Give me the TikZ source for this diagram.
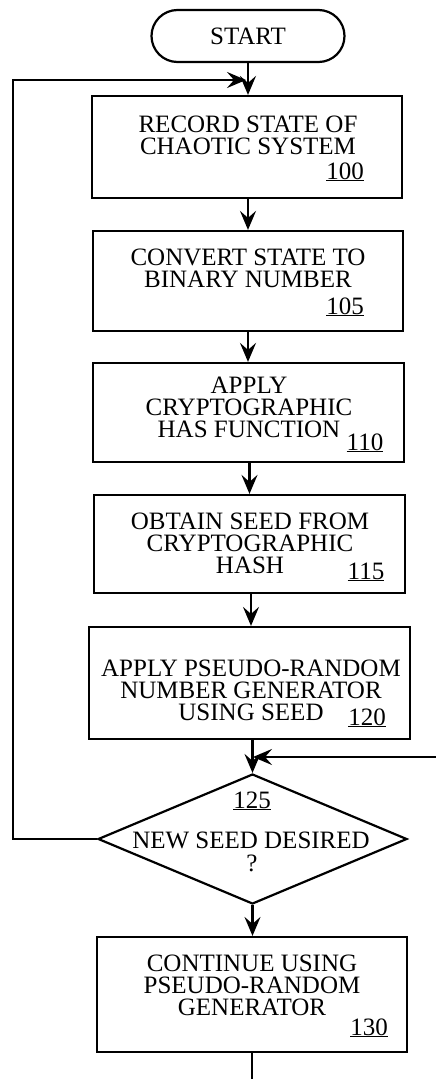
\documentclass[tikz,border=0pt]{standalone}
\usepackage{fontspec}
\setmainfont{Liberation Serif}
\usetikzlibrary{shapes.geometric,arrows.meta}

\begin{document}
\begin{tikzpicture}[x=1pt,y=-1pt,line width=2.2pt,
  box/.style={draw,rectangle,inner sep=0pt,line width=2.2pt},
  txt/.style={align=center,inner sep=0pt,font=\fontsize{25}{22}\selectfont},
  refnum/.style={anchor=base,inner sep=0pt,font=\fontsize{25}{22}\selectfont},
  flow/.style={-{Stealth[length=19pt,width=16pt,inset=7pt]},line width=2.2pt}]
\useasboundingbox (0,0) rectangle (436,1079);

% terminal
\node[box,minimum width=193pt,minimum height=52pt,rounded corners=26pt,
      font=\fontsize{25}{22}\selectfont] (start) at (248,36) {START};

% process steps
\node[box,minimum width=310pt,minimum height=102pt] (rec) at (247,147) {};
\node[txt] (rec-t) at (248,135) {RECORD STATE OF\\CHAOTIC SYSTEM};
\node[refnum] (rec-n) at (345,179) {\underline{100}};

\node[box,minimum width=310pt,minimum height=100pt] (conv) at (248,281) {};
\node[txt] (conv-t) at (248,268) {CONVERT STATE TO\\BINARY NUMBER};
\node[refnum] (conv-n) at (345,314) {\underline{105}};

\node[box,minimum width=311pt,minimum height=99pt] (hashf) at (248.5,412.5) {};
\node[txt] (hashf-t) at (249,407) {APPLY\\CRYPTOGRAPHIC\\HAS FUNCTION};
\node[refnum] (hashf-n) at (365,450) {\underline{110}};

\node[box,minimum width=311pt,minimum height=98pt] (seed) at (249.5,544) {};
\node[txt] (seed-t) at (250,543) {OBTAIN SEED FROM\\CRYPTOGRAPHIC\\HASH};
\node[refnum] (seed-n) at (366,579) {\underline{115}};

\node[box,minimum width=321pt,minimum height=112pt] (prng) at (249.5,683) {};
\node[txt] (prng-t) at (251,690) {APPLY PSEUDO-RANDOM\\NUMBER GENERATOR\\USING SEED\hspace{50pt}};
\node[refnum] (prng-n) at (367,725) {\underline{120}};

% decision
\node[draw,diamond,aspect=2.38,minimum width=309pt,minimum height=130pt,
      inner sep=0pt,line width=2.2pt] (q) at (252.5,839) {};
\node[refnum] (q-n) at (252,808) {\underline{125}};
\node[txt] (q-t) at (251,840) {NEW SEED DESIRED};
\node[txt] (q-m) at (252,863) {?};

\node[box,minimum width=310pt,minimum height=115pt] (cont) at (252,994.5) {};
\node[txt] (cont-t) at (252,985) {CONTINUE USING\\PSEUDO-RANDOM\\GENERATOR};
\node[refnum] (cont-n) at (369,1035) {\underline{130}};

% loop-back and entry points
\coordinate (loopL) at (13,80);
\coordinate (loopJ) at (246,80);
\coordinate (fbR) at (436,757);
\coordinate (fbJ) at (253,757);
\coordinate (endB) at (252,1079);

% connectors
\draw[flow] (start.south) -- (start.south |- rec.north);
\draw[flow] (rec.south -| conv.north) -- (conv.north);
\draw[flow] (conv.south) -- (conv.south |- hashf.north);
\draw[flow] (hashf.south -| seed.north) -- (seed.north);
\draw[flow] (seed.south -| 251,0) -- (251,0 |- prng.north);
\draw[flow] (prng.south -| q.north) -- (q.north);
\draw[flow] (q.south) -- (q.south |- cont.north);
\draw (cont.south) -- (endB);
\draw[flow] (q.west) -- (q.west -| loopL) -- (loopL) -- (loopJ);
\draw[flow] (fbR) -- (fbJ);
\end{tikzpicture}
\end{document}
